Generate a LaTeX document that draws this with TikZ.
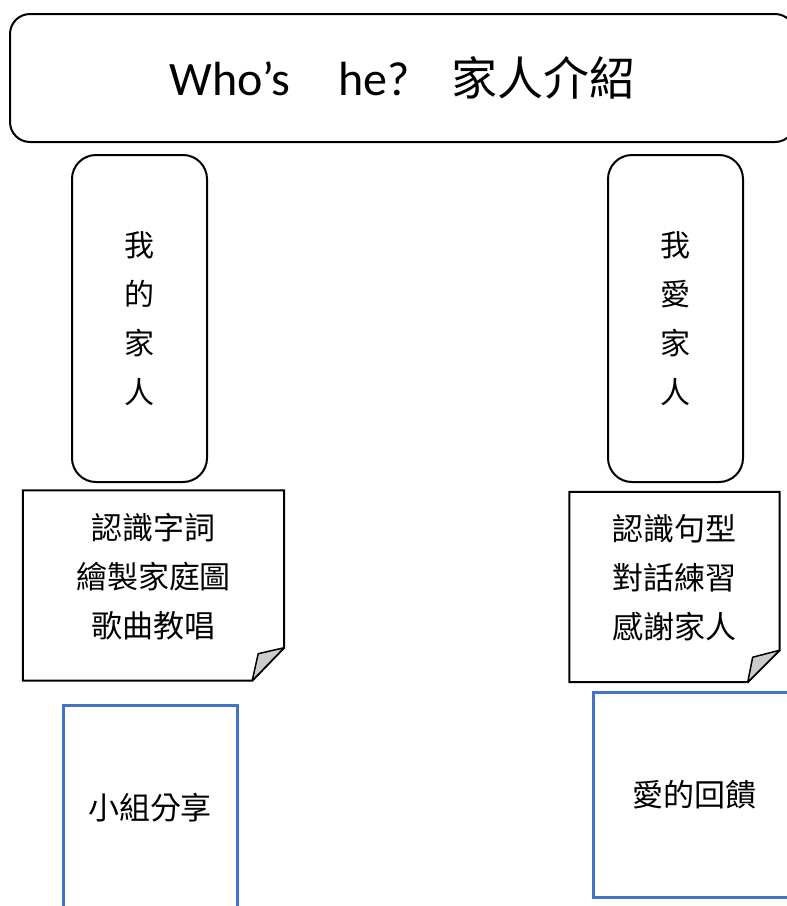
\documentclass[tikz,border=0pt]{standalone}
\usepackage{fontspec}
\setmainfont{Carlito}
\newfontfamily\cjk{Noto Sans CJK TC}
\usepackage{xcolor}
\usetikzlibrary{positioning}
\definecolor{shareblue}{HTML}{4472C4}

\begin{document}
\begin{tikzpicture}[x=1pt,y=-1pt,
    titlebox/.style={draw,line width=2pt,rounded corners=20pt,minimum width=785pt,minimum height=128pt,inner sep=0pt,font=\fontsize{48}{54}\selectfont},
    sidebox/.style={draw,line width=2pt,rounded corners=24pt,minimum width=135pt,minimum height=327pt,align=center,font=\cjk\fontsize{30}{49}\selectfont},
    notebox/.style={minimum width=#1,minimum height=190pt,inner sep=0pt},
    notetext/.style={align=center,font=\cjk\fontsize{31}{49}\selectfont},
    fold/.style={fill=gray!40,line width=1.5pt,line join=round},
    sharebox/.style={draw=shareblue,line width=3pt,minimum width=#1,minimum height=205pt,font=\cjk\fontsize{31}{35}\selectfont}
  ]
        % Page frame
        \useasboundingbox (0,0) rectangle (787,906);
        \clip (0,0) rectangle (787,906);
        % Draw title
        \node[titlebox] (title) at (402.5,78) {Who’s\hspace{48pt}he?\hspace{42pt}{\cjk\fontsize{46}{54}\selectfont 家人介紹}};
        % Draw the two side boxes
        \node[sidebox] (family) at (139.5,318.5) {我\\的\\家\\人};
        \node[sidebox] (love) at (675.5,318.5) {我\\愛\\家\\人};
        % Draw left note
        \node[notebox=261pt] (noteL) at (153.5,585.5) {};
        \draw[line width=2pt] (noteL.north west) -- (noteL.north east) -- ([yshift=33pt]noteL.south east)
            -- ([xshift=-32pt]noteL.south east) -- (noteL.south west) -- cycle;
        \draw[fold] ([yshift=33pt]noteL.south east) -- ([xshift=-26pt,yshift=27pt]noteL.south east)
            -- ([xshift=-32pt]noteL.south east) -- cycle;
        \node[notetext] (noteLtext) at ([yshift=9pt]noteL.center) {認識字詞\\繪製家庭圖\\歌曲教唱};
        % Draw right note
        \node[notebox=210pt] (noteR) at (674.5,587) {};
        \draw[line width=2pt] (noteR.north west) -- (noteR.north east) -- ([yshift=32pt]noteR.south east)
            -- ([xshift=-32pt]noteR.south east) -- (noteR.south west) -- cycle;
        \draw[fold] ([yshift=32pt]noteR.south east) -- ([xshift=-27pt,yshift=25pt]noteR.south east)
            -- ([xshift=-32pt]noteR.south east) -- cycle;
        \node[notetext] (noteRtext) at ([yshift=9pt]noteR.center) {認識句型\\對話練習\\感謝家人};
        % Draw sharing boxes
        \node[sharebox=174pt] (share) at (150,808) {小組分享};
        \node[sharebox=202pt] (feedback) at (694,794.5) {愛的回饋};
    \end{tikzpicture}
\end{document}
